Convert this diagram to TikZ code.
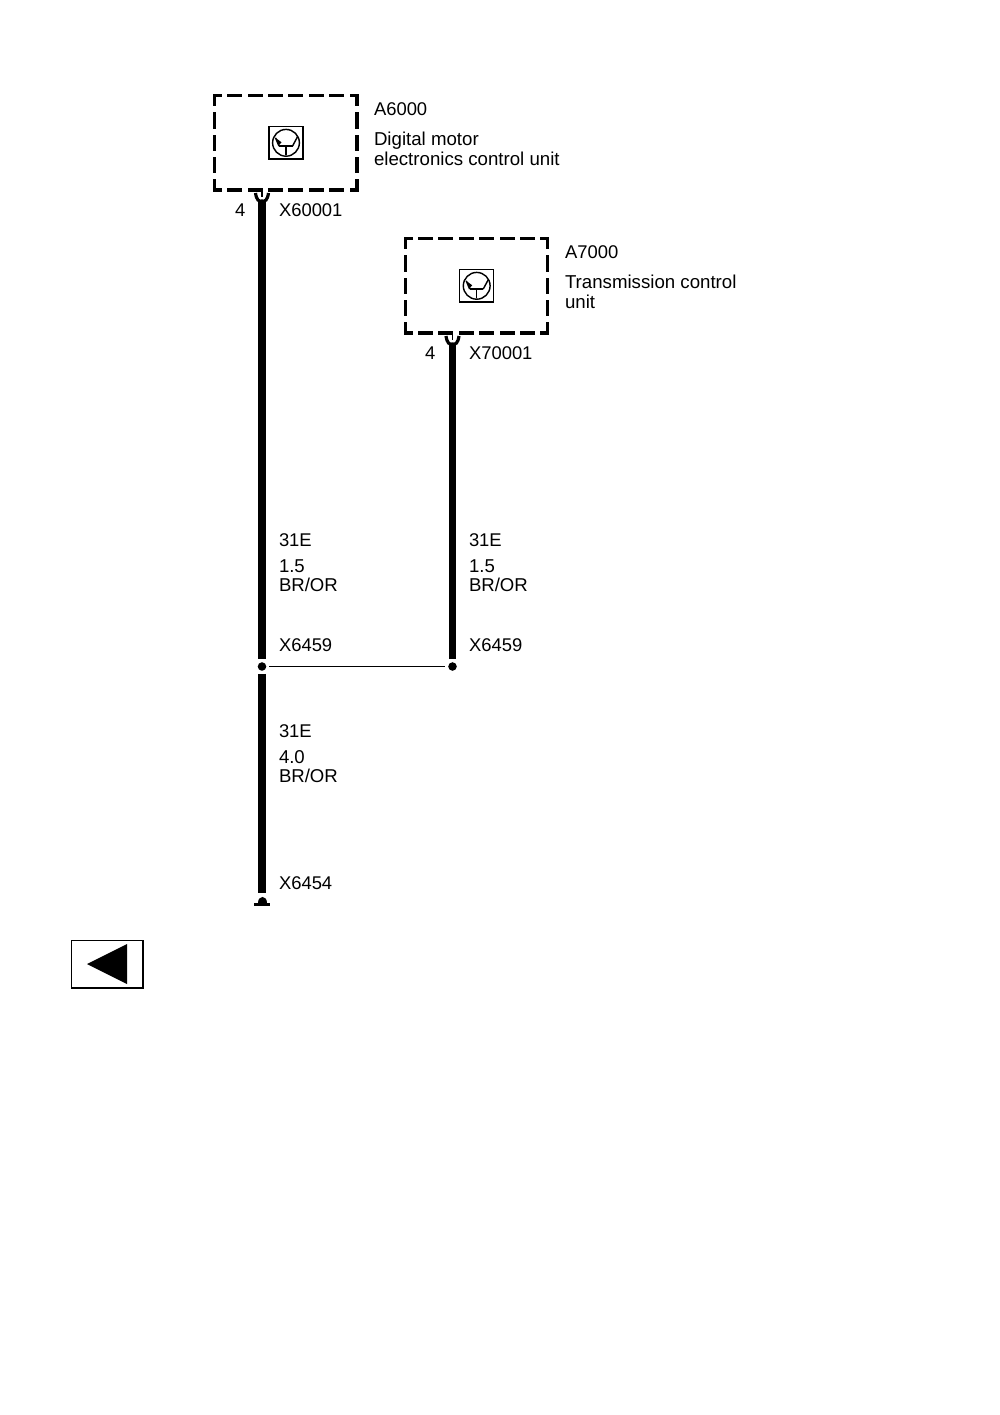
\documentclass[tikz,border=0pt]{standalone}
\usepackage{fontspec}
\setmainfont{Liberation Sans}
\usetikzlibrary{positioning,calc}
\tikzset{
    unitbox/.style={inner sep=0pt, outer sep=0pt, minimum width=85.1pt, minimum height=56.3pt},
    hside/.style={line width=2.1pt, line cap=rect, dash pattern=on 6.87pt off 5.29pt, dash phase=3.44pt},
    vside/.style={line width=2.1pt, line cap=rect, dash pattern=on 7.47pt off 5.86pt, dash phase=2.24pt},
    symbox/.style={draw, line width=0.9pt, minimum width=20.3pt, minimum height=19.5pt, inner sep=0pt, outer sep=0pt},
    wire/.style={line width=4.5pt},
    thinwire/.style={line width=1.1pt},
    socket/.style={line width=1.9pt},
    pinline/.style={line width=0.8pt},
    splice/.style={circle, fill, inner sep=0pt, minimum size=5.1pt, outer sep=1.8pt},
    lbl/.style={anchor=base west, inner sep=0pt, outer sep=0pt, font=\fontsize{11}{12}\selectfont},
    lbltwo/.style={anchor=north west, align=left, inner sep=0pt, outer sep=0pt, font=\fontsize{11.15}{12.3}\selectfont},
    lblwire/.style={anchor=north west, align=left, inner sep=0pt, outer sep=0pt, font=\fontsize{11.1}{11.05}\selectfont},
    ecusym/.pic={
        \draw[line width=0.85pt] (0,0) circle (8pt);
        \draw[line width=0.85pt] (-7,3.3) -- (6.5,3.3) (0,3.3) -- (0,12.5);
        \draw[line width=0.85pt] (-7,3.3) -- (-10.5,-5) (6.5,3.3) -- (11.5,-6);
        \fill (-10.5,-5) -- (-4.5,-0.5) -- (-7.5,3) -- cycle;
    }
}
\begin{document}
\begin{tikzpicture}[x=0.021cm, y=-0.021cm]
    \useasboundingbox (0,0) rectangle (1000,1415);

    % control units
    \node (a6000) [unitbox] at (285.8,142.8) {};
    \draw[hside] (a6000.north west) -- (a6000.north east);
    \draw[hside] (a6000.south west) -- (a6000.south east);
    \draw[vside] (a6000.north west) -- (a6000.south west);
    \draw[vside] (a6000.north east) -- (a6000.south east);
    \node (sym60) [symbox] at (286,142.8) {};
    \pic at (sym60) {ecusym};

    \node (a7000) [unitbox] at (476.5,285.8) {};
    \draw[hside] (a7000.north west) -- (a7000.north east);
    \draw[hside] (a7000.south west) -- (a7000.south east);
    \draw[vside] (a7000.north west) -- (a7000.south west);
    \draw[vside] (a7000.north east) -- (a7000.south east);
    \node (sym70) [symbox] at (476.7,285.8) {};
    \pic at (sym70) {ecusym};

    \node [lbl] at (374,115) {A6000};
    \node [lbltwo] at (374,131.5) {Digital motor\\electronics control unit};
    \node [lbl] at (565,258) {A7000};
    \node [lbltwo] at (565,274.5) {Transmission control\\unit};

    % sockets
    \coordinate (p60) at (262,201);
    \coordinate (p70) at (452.5,344);
    \draw[socket] ($(p60)+(-6.5,-8)$) .. controls ($(p60)+(-5.5,-1)$) and ($(p60)+(-3,1)$) .. (p60) .. controls ($(p60)+(3,1)$) and ($(p60)+(5.5,-1)$) .. ($(p60)+(6.5,-8)$);
    \draw[socket] ($(p70)+(-6.5,-8)$) .. controls ($(p70)+(-5.5,-1)$) and ($(p70)+(-3,1)$) .. (p70) .. controls ($(p70)+(3,1)$) and ($(p70)+(5.5,-1)$) .. ($(p70)+(6.5,-8)$);
    \draw[pinline] (p60 |- a6000.south) -- ($(p60)+(0,-4)$);
    \draw[pinline] (p70 |- a7000.south) -- ($(p70)+(0,-4)$);

    \node [lbl] at (235,216.5) {4};
    \node [lbl] at (279,216.5) {X60001};
    \node [lbl] at (425,359.5) {4};
    \node [lbl] at (469,359.5) {X70001};

    % wires
    \node (s1) [splice] at (262,666.5) {};
    \node (s2) [splice] at (452.5,666.5) {};
    \coordinate (g1) at (262,893);
    \draw[wire] (p60) -- (s1);
    \draw[wire] (p70) -- (s2);
    \draw[wire] (s1) -- (g1);
    \draw[thinwire] (s1) -- (s2);

    \node [lbl] at (279,546.5) {31E};
    \node [lblwire] at (279,560) {1.5\\BR/OR};
    \node [lbl] at (279,651) {X6459};
    \node [lbl] at (469,546.5) {31E};
    \node [lblwire] at (469,560) {1.5\\BR/OR};
    \node [lbl] at (469,651) {X6459};
    \node [lbl] at (279,737) {31E};
    \node [lblwire] at (279,751) {4.0\\BR/OR};
    \node [lbl] at (279,889) {X6454};

    % ground
    \node (gnd) [inner sep=0pt, minimum width=9.6pt, minimum height=1.8pt, fill] at (262,904.5) {};
    \fill ($(gnd.north)+(-4.5,0)$) .. controls ($(gnd.north)+(-4.5,-8)$) and ($(gnd.north)+(4.5,-8)$) .. ($(gnd.north)+(4.5,0)$) -- cycle;

    % back button
    \node (back) [draw, line width=0.8pt, minimum width=42.7pt, minimum height=28.4pt, inner sep=0pt, outer sep=0pt] at (107.2,964.2) {};
    \fill (87,964) -- (127,944) -- (127,984) -- cycle;
\end{tikzpicture}
\end{document}
